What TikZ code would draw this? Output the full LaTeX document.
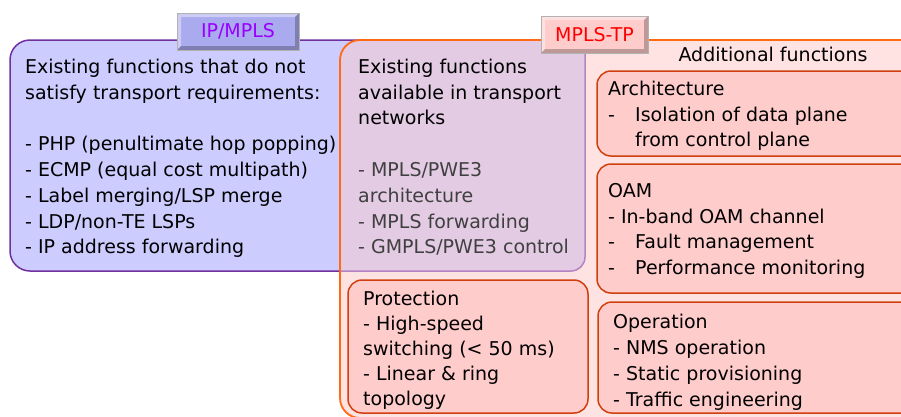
\documentclass[tikz,border=0pt]{standalone}
\usepackage{fontspec}
\setmainfont{DejaVu Sans}
\usepackage{tikz}
\usetikzlibrary{positioning}

\definecolor{ipfill}{HTML}{CCCCFF}
\definecolor{ipline}{HTML}{7030A0}
\definecolor{iptab}{HTML}{AAAAEE}
\definecolor{iptext}{HTML}{9900FF}
\definecolor{tpfill}{HTML}{FFE3E3}
\definecolor{tpline}{HTML}{FF6A13}
\definecolor{exfill}{HTML}{E2CBE3}
\definecolor{exline}{HTML}{B483C4}
\definecolor{fnfill}{HTML}{FFCCCC}
\definecolor{fnline}{HTML}{D0400E}
\definecolor{greytext}{HTML}{404040}

\newcommand{\gap}{\makebox[27pt][l]{-}}
\newcommand{\ind}{\hspace*{27pt}}
\newcommand{\gr}[1]{\textcolor{greytext}{#1}}

\begin{document}
\begin{tikzpicture}[x=1pt,y=-1pt,
                    txt/.style={anchor=north west,inner sep=0pt,align=left,
                                font=\fontsize{19}{25.8}\selectfont},
                    fn/.style={draw=fnline,fill=fnfill,line width=1.5pt,rounded corners=14pt},
                    tab/.style={draw=black!30,line width=0.8pt,inner sep=0pt,
                                font=\fontsize{19}{23}\selectfont,
                                path picture={
                                  \fill[white,opacity=.4] (path picture bounding box.north west)
                                    -- (path picture bounding box.north east)
                                    -- ([shift={(-4,4)}]path picture bounding box.north east)
                                    -- ([shift={(4,4)}]path picture bounding box.north west)
                                    -- ([shift={(4,-4)}]path picture bounding box.south west)
                                    -- (path picture bounding box.south west) -- cycle;
                                  \fill[black,opacity=.25] (path picture bounding box.south east)
                                    -- (path picture bounding box.south west)
                                    -- ([shift={(4,-4)}]path picture bounding box.south west)
                                    -- ([shift={(-4,-4)}]path picture bounding box.south east)
                                    -- ([shift={(-4,4)}]path picture bounding box.north east)
                                    -- (path picture bounding box.north east) -- cycle;}}]
%  \tikzstyle{every node}=[draw=none,text=black]
  \useasboundingbox (0,0) rectangle (901,416);

  \draw[draw=ipline,fill=ipfill,line width=1.5pt,rounded corners=20pt] (10,40) rectangle (380,271);
  \fill[tpfill,rounded corners=20pt] (340,40) rectangle (925,418);
  \begin{scope}
    \clip[rounded corners=20pt] (340,40) rectangle (925,418);
    \fill[exfill,rounded corners=14pt] (330,0) rectangle (585,271);
  \end{scope}
  \draw[exline,line width=1.5pt,rounded corners=14pt] (340,271) -- (585,271) -- (585,40);
  \draw[tpline,line width=1.8pt,rounded corners=20pt] (340,40) rectangle (925,418);

  \draw[fn] (597,71) rectangle (915,156);
  \draw[fn] (597,164) rectangle (915,293);
  \draw[fn] (348,280) rectangle (588,413);
  \draw[fn] (598,302) rectangle (915,413);

  \node[tab,fill=iptab,text=iptext,minimum width=122pt,minimum height=37pt] (IP) at (238,31.5) {IP/MPLS};
  \node[tab,fill=fnfill,text=red,minimum width=107pt,minimum height=37pt] (TP) at (594.5,34.5) {MPLS-TP};

  \node[txt] (A) at (25,58.6) {Existing functions that do not\\
    satisfy transport requirements:\\
    \\
    - PHP (penultimate hop popping)\\
    - ECMP (equal cost multipath)\\
    - Label merging/LSP merge\\
    - LDP/non-TE LSPs\\
    - IP address forwarding};
  \node[txt] (B) at (358,58.6) {Existing functions\\
    available in transport\\
    networks\\
    \\
    \gr{- MPLS/PWE3}\\
    \gr{architecture}\\
    \gr{- MPLS forwarding}\\
    \gr{- GMPLS/PWE3 control}};
  \node[txt,anchor=base] (C) at (773,61) {Additional functions};
  \node[txt] (D) at (608,80.6) {Architecture\\
    \gap Isolation of data plane\\
    \ind from control plane};
  \node[txt] (E) at (608,183) {OAM\\
    - In-band OAM channel\\
    \gap Fault management\\
    \gap Performance monitoring};
  \node[txt,font=\fontsize{19}{25}\selectfont] (F) at (363,291) {Protection\\
    - High-speed\\
    switching (< 50 ms)\\
    - Linear \& ring\\
    topology};
  \node[txt] (G) at (613,314) {Operation\\
    - NMS operation\\
    - Static provisioning\\
    - Traffic engineering};

\end{tikzpicture}
\end{document}
